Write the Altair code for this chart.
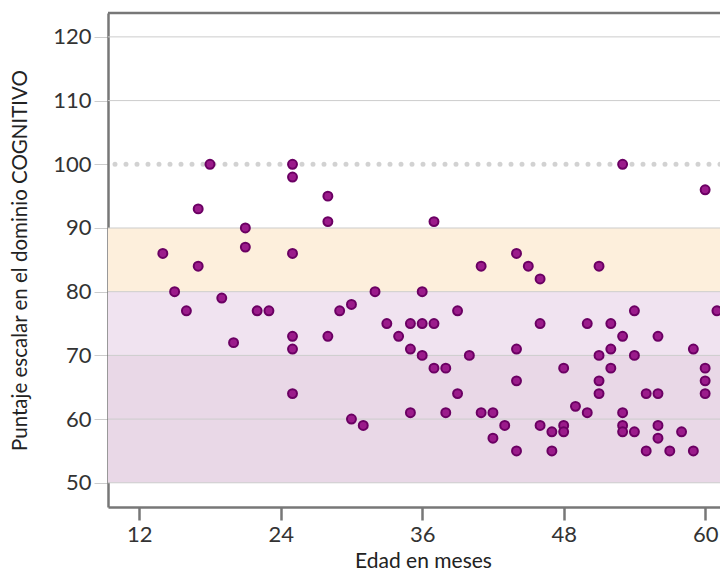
import altair as alt
import pandas as pd

# ---- data ----
ages = [14, 15, 16, 17, 17, 18, 19, 20, 21, 21, 22, 23, 25, 25, 25, 25, 25, 25, 28, 28,
        28, 29, 30, 30, 31, 32, 33, 34, 35, 35, 35, 36, 36, 36, 37, 37, 37, 38, 38, 39,
        39, 40, 41, 41, 42, 42, 43, 44, 44, 44, 44, 45, 46, 46, 46, 47, 47, 48, 48, 48,
        49, 50, 50, 51, 51, 51, 51, 52, 52, 52, 53, 53, 53, 53, 53, 54, 54, 54, 55, 55,
        56, 56, 56, 56, 57, 58, 59, 59, 60, 60, 60, 60, 61]
scores = [86, 80, 77, 84, 93, 100, 79, 72, 90, 87, 77, 77, 100, 98, 86, 73, 71, 64, 95, 91,
          73, 77, 78, 60, 59, 80, 75, 73, 75, 71, 61, 80, 75, 70, 91, 75, 68, 68, 61, 77,
          64, 70, 84, 61, 61, 57, 59, 86, 71, 66, 55, 84, 82, 75, 59, 58, 55, 68, 59, 58,
          62, 61, 75, 84, 70, 66, 64, 75, 71, 68, 100, 73, 61, 59, 58, 77, 70, 58, 64, 55,
          73, 64, 59, 57, 55, 58, 71, 55, 96, 68, 66, 64, 77]

band_from = [50, 70, 80]
band_to = [70, 80, 90]
band_name = ["bajo", "limítrofe", "promedio bajo"]
grid_values = [50, 60, 70, 80, 90, 110, 120]
ref_value = [100]
x_ticks = [12, 24, 36, 48, 60]
y_ticks = [50, 60, 70, 80, 90, 100, 110, 120]

# ---- styling ----
FONT = "Lato"
FRAME = "#777777"
band_colors = ["#E9D8E7", "#F0E3F0", "#FDEFDC"]

pts = pd.DataFrame({"edad": ages, "puntaje": scores})
bands = pd.DataFrame({"y0": band_from, "y1": band_to, "banda": band_name})
grid = pd.DataFrame({"v": grid_values})
ref = pd.DataFrame({"v": ref_value})

xs = alt.Scale(domain=[9.35, 61.26], nice=False, zero=False)
ys = alt.Scale(domain=[46.2, 123.75], nice=False, zero=False)

x_axis = alt.Axis(values=x_ticks, title="Edad en meses", grid=False,
                  domainColor=FRAME, domainWidth=2.5,
                  tickColor=FRAME, tickWidth=2.5, tickSize=13,
                  labelFont=FONT, labelFontSize=22, labelColor="#333333", labelPadding=4,
                  titleFont=FONT, titleFontSize=21, titleFontWeight="normal",
                  titleColor="#222222", titleX=315, titleY=60, titleBaseline="alphabetic")
y_axis = alt.Axis(values=y_ticks, title="Puntaje escalar en el dominio COGNITIVO", grid=False,
                  domainColor=FRAME, domainWidth=2.5,
                  tickColor="#cccccc", tickWidth=1, tickSize=14,
                  labelFont=FONT, labelFontSize=22, labelColor="#333333", labelPadding=3,
                  titleFont=FONT, titleFontSize=20.5, titleFontWeight="normal",
                  titleColor="#222222", titleX=-88, titleAngle=270, titleBaseline="middle")

band_layer = alt.Chart(bands).mark_rect().encode(
    x=alt.value(0), x2=alt.value("width"),
    y=alt.Y("y0:Q", scale=ys, axis=y_axis), y2="y1:Q",
    color=alt.Color("banda:N", scale=alt.Scale(domain=band_name, range=band_colors), legend=None),
)

grid_layer = alt.Chart(grid).mark_rule(color="#cccccc", strokeWidth=1).encode(
    y=alt.Y("v:Q", scale=ys, axis=y_axis)
)

ref_layer = alt.Chart(ref).mark_rule(color="#d2d2d2", strokeWidth=5, strokeDash=[0, 11],
                                     strokeCap="round").encode(
    y=alt.Y("v:Q", scale=ys, axis=y_axis)
)

top_frame = alt.Chart(ref).mark_rule(color=FRAME, strokeWidth=2.5).encode(
    x=alt.value(0), x2=alt.value("width"), y=alt.value(0)
)

point_layer = alt.Chart(pts).mark_circle(size=80, color="#9B1B8B", stroke="#6B0063",
                                         strokeWidth=2, opacity=1).encode(
    x=alt.X("edad:Q", scale=xs, axis=x_axis),
    y=alt.Y("puntaje:Q", scale=ys, axis=y_axis),
)

chart = alt.layer(band_layer, grid_layer, ref_layer, top_frame, point_layer).properties(
    width=612, height=494,
    padding={"left": 100, "top": 5, "right": 0, "bottom": 64},
    autosize=alt.AutoSizeParams(type="none"),
    background="white",
).configure_view(stroke=None)

chart.save("out.html", embed_options={"renderer": "svg", "actions": False})
